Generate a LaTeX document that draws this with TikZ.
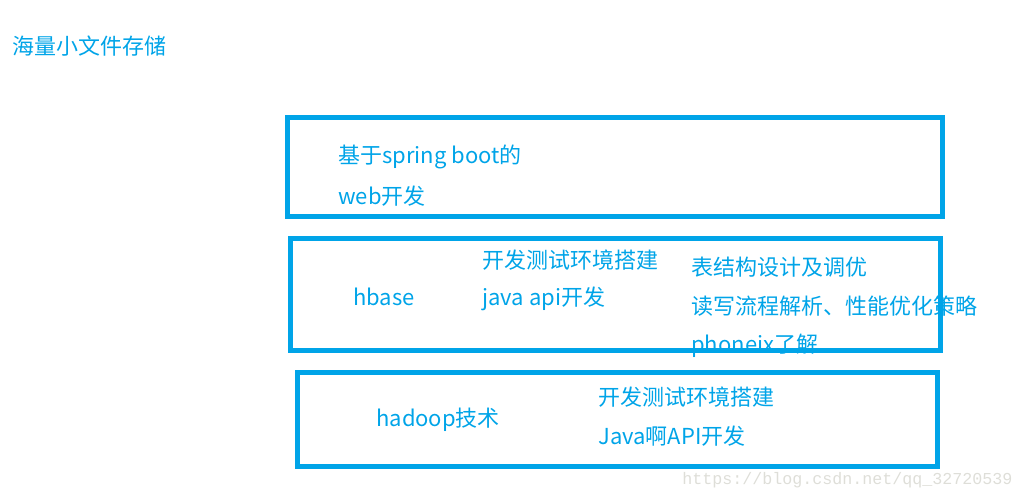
\documentclass[tikz,border=0pt]{standalone}
\usepackage{fontspec}
\setmainfont{Noto Sans CJK SC}
\newfontfamily\wmfont{Liberation Mono}
\definecolor{boxblue}{RGB}{0,164,232}
\definecolor{wmgray}{RGB}{222,222,216}
\begin{document}
\begin{tikzpicture}[x=0.75pt,y=-0.75pt,
  lbl/.style={anchor=west,inner sep=0pt,text=boxblue,font=\fontsize{16.5}{18}\selectfont},
  frame/.style={draw=boxblue,line width=3.75pt}]
\useasboundingbox (0,0) rectangle (1023,499);
\node[lbl] (title) at (12,46) {海量小文件存储};
\node[lbl] (w1) at (338,157) {基于spring boot的};
\node[lbl] (w2) at (338,196) {web开发};
\node[lbl] (hb) at (353,297) {hbase};
\node[lbl] (hb1) at (482,260) {开发测试环境搭建};
\node[lbl] (hb2) at (482,299) {java api开发};
\node[lbl] (hb3) at (691,267) {表结构设计及调优};
\node[lbl] (hb4) at (691,306) {读写流程解析、性能优化策略};
\node[lbl] (hb5) at (691,346) {phoneix了解};
\node[lbl] (hd) at (376,420) {hadoop技术};
\node[lbl] (hd1) at (598,397) {开发测试环境搭建};
\node[lbl] (hd2) at (598,436) {Java啊API开发};
\node[anchor=west,inner sep=0pt,text=wmgray,font=\wmfont\fontsize{12.5}{14}\selectfont] (wm) at (682,480) {https://blog.csdn.net/qq\_32720539};
\draw[frame] (287.5,117.5) rectangle (942.5,216.5);
\draw[frame] (290,238) rectangle (940,350);
\draw[frame] (297,372.5) rectangle (937.5,466.5);
\end{tikzpicture}
\end{document}
